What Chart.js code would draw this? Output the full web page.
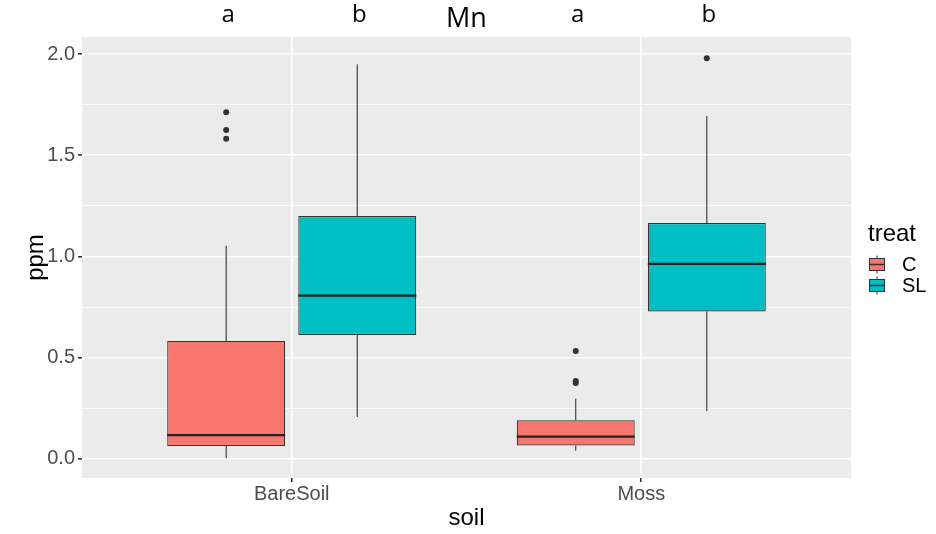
<!DOCTYPE html>
<html>
<head>
<meta charset="utf-8">
<script src="https://cdn.jsdelivr.net/npm/chart.js@4.4.1/dist/chart.umd.min.js"></script>
<style>
  html, body { margin: 0; padding: 0; background: #ffffff; }
  #wrap { width: 936px; height: 534px; }
</style>
</head>
<body>
<div id="wrap"><canvas id="chart"></canvas></div>
<script>
const categories = ['BareSoil', 'Moss'];
const groups = ['C', 'SL'];
const groupColors = ['#F8766D', '#00BFC4'];

// box summaries (ppm)
const lowerC = [0.003, 0.040];
const q1C = [0.064, 0.067];
const medianC = [0.118, 0.110];
const q3C = [0.583, 0.191];
const upperC = [1.053, 0.298];
const outliersC = [[1.712, 1.625, 1.582], [0.533, 0.385, 0.375]];

const lowerSL = [0.207, 0.237];
const q1SL = [0.612, 0.728];
const medianSL = [0.807, 0.964];
const q3SL = [1.200, 1.165];
const upperSL = [1.949, 1.694];
const outliersSL = [[], [1.979]];

// significance letters written above each box
const lettersC = ['a', 'a'];
const lettersSL = ['b', 'b'];

const yMajor = [0, 0.5, 1, 1.5, 2];
const yMinor = [0.25, 0.75, 1.25, 1.75];

const dodgeWidth = 0.75;
const dodge = dodgeWidth / 4;

const stats = [
    { lower: lowerC, q1: q1C, median: medianC, q3: q3C, upper: upperC },
    { lower: lowerSL, q1: q1SL, median: medianSL, q3: q3SL, upper: upperSL }
];
const letters = [lettersC, lettersSL];

function boxData(q1, q3) {
    return categories.map((c, i) => ({ x: i + 1, y: [q1[i], q3[i]] }));
}

function outlierData(list, shift) {
    const pts = [];
    list.forEach((vals, i) => vals.forEach(v => pts.push({ x: i + 1 + shift, y: v })));
    return pts;
}

const panelPlugin = {
    id: 'panel',
    beforeDraw(chart) {
        const { ctx, chartArea: a } = chart;
        ctx.save();
        ctx.fillStyle = '#EBEBEB';
        ctx.fillRect(a.left, a.top, a.right - a.left, a.bottom - a.top);
        ctx.restore();
    }
};

const whiskerPlugin = {
    id: 'whiskers',
    afterDatasetsDraw(chart) {
        const ctx = chart.ctx;
        const y = chart.scales.y;
        stats.forEach((s, d) => {
            chart.getDatasetMeta(d).data.forEach((bar, i) => {
                const half = bar.width / 2;
                ctx.save();
                ctx.strokeStyle = '#333333';
                ctx.lineWidth = 1.1;
                ctx.beginPath();
                ctx.moveTo(bar.x, y.getPixelForValue(s.q3[i]));
                ctx.lineTo(bar.x, y.getPixelForValue(s.upper[i]));
                ctx.moveTo(bar.x, y.getPixelForValue(s.q1[i]));
                ctx.lineTo(bar.x, y.getPixelForValue(s.lower[i]));
                ctx.stroke();
                const ym = y.getPixelForValue(s.median[i]);
                ctx.strokeStyle = '#222222';
                ctx.lineWidth = 2.2;
                ctx.beginPath();
                ctx.moveTo(bar.x - half, ym);
                ctx.lineTo(bar.x + half, ym);
                ctx.stroke();
                ctx.restore();
            });
        });
    }
};

const lettersPlugin = {
    id: 'letters',
    afterDraw(chart) {
        const ctx = chart.ctx;
        ctx.save();
        ctx.font = '24px "Open Sans"';
        ctx.fillStyle = '#000000';
        ctx.textAlign = 'center';
        ctx.textBaseline = 'alphabetic';
        letters.forEach((row, d) => {
            chart.getDatasetMeta(d).data.forEach((bar, i) => {
                ctx.fillText(row[i], bar.x + 2, 22);
            });
        });
        ctx.restore();
    }
};

const legendPlugin = {
    id: 'treatLegend',
    afterDraw(chart) {
        const { ctx, chartArea: a } = chart;
        const left = a.right + 17;
        const mid = (a.top + a.bottom) / 2;
        ctx.save();
        ctx.fillStyle = '#000000';
        ctx.font = '24px "Liberation Sans"';
        ctx.textAlign = 'left';
        ctx.textBaseline = 'alphabetic';
        ctx.fillText('treat', left, mid - 17);
        groups.forEach((g, k) => {
            const cy = mid + 7 + k * 21;
            const cx = left + 9;
            ctx.strokeStyle = '#333333';
            ctx.lineWidth = 1;
            ctx.beginPath();
            ctx.moveTo(cx, cy - 9);
            ctx.lineTo(cx, cy + 9);
            ctx.stroke();
            ctx.fillStyle = groupColors[k];
            ctx.fillRect(left + 1.5, cy - 6, 15, 12);
            ctx.strokeRect(left + 1.5, cy - 6, 15, 12);
            ctx.lineWidth = 1.5;
            ctx.beginPath();
            ctx.moveTo(left + 1.5, cy);
            ctx.lineTo(left + 16.5, cy);
            ctx.stroke();
            ctx.fillStyle = '#000000';
            ctx.font = '20px "Liberation Sans"';
            ctx.textBaseline = 'middle';
            ctx.fillText(g, left + 34, cy + 1);
            ctx.textBaseline = 'alphabetic';
        });
        ctx.restore();
    }
};

Chart.defaults.font.family = '"Liberation Sans", Arial, sans-serif';

new Chart(document.getElementById('chart'), {
    type: 'bar',
    data: {
        datasets: [
            {
                label: groups[0],
                data: boxData(q1C, q3C),
                backgroundColor: groupColors[0],
                borderColor: '#333333',
                borderWidth: 1.2,
                borderSkipped: false
            },
            {
                label: groups[1],
                data: boxData(q1SL, q3SL),
                backgroundColor: groupColors[1],
                borderColor: '#333333',
                borderWidth: 1.2,
                borderSkipped: false
            },
            {
                type: 'scatter',
                label: groups[0] + ' outliers',
                data: outlierData(outliersC, -dodge),
                backgroundColor: '#333333',
                borderWidth: 0,
                pointRadius: 3
            },
            {
                type: 'scatter',
                label: groups[1] + ' outliers',
                data: outlierData(outliersSL, dodge),
                backgroundColor: '#333333',
                borderWidth: 0,
                pointRadius: 3
            }
        ]
    },
    options: {
        responsive: true,
        maintainAspectRatio: false,
        animation: false,
        events: [],
        categoryPercentage: dodgeWidth,
        barPercentage: 0.9,
        layout: { padding: { top: 0, right: 85, left: 0, bottom: 0 } },
        plugins: {
            legend: { display: false },
            tooltip: { enabled: false },
            title: {
                display: true,
                text: 'Mn',
                fullSize: false,
                color: '#000000',
                font: { family: '"Open Sans"', size: 27, weight: 'normal' },
                padding: { top: 3, bottom: 1.6 }
            }
        },
        scales: {
            x: {
                type: 'linear',
                min: 0.4,
                max: 2.6,
                offset: false,
                afterBuildTicks: s => { s.ticks = categories.map((c, i) => ({ value: i + 1 })); },
                afterFit: s => { s.height = 56; },
                border: { display: false },
                grid: { offset: false, color: '#FFFFFF', lineWidth: 1.6, tickColor: '#333333', tickLength: 4 },
                ticks: {
                    color: '#4D4D4D',
                    font: { size: 20 },
                    padding: 0,
                    maxRotation: 0,
                    callback: v => categories[v - 1]
                },
                title: {
                    display: true,
                    text: 'soil',
                    color: '#000000',
                    font: { size: 24 },
                    padding: { top: 0, bottom: 1 }
                }
            },
            y: {
                min: -0.094,
                max: 2.084,
                afterBuildTicks: s => {
                    s.ticks = yMajor.concat(yMinor).sort((a, b) => a - b).map(v => ({ value: v }));
                },
                afterFit: s => { s.width = 82; },
                border: { display: false },
                grid: {
                    color: '#FFFFFF',
                    lineWidth: c => yMajor.includes(c.tick.value) ? 1.6 : 0.8,
                    tickColor: c => yMajor.includes(c.tick.value) ? '#333333' : 'rgba(0,0,0,0)',
                    tickLength: 4
                },
                ticks: {
                    color: '#4D4D4D',
                    font: { size: 20 },
                    padding: 3,
                    callback: v => yMajor.includes(v) ? v.toFixed(1) : ''
                },
                title: {
                    display: true,
                    text: 'ppm',
                    color: '#000000',
                    font: { size: 24 },
                    padding: { top: 22, bottom: 0 }
                }
            }
        }
    },
    plugins: [panelPlugin, whiskerPlugin, lettersPlugin, legendPlugin]
});
</script>
</body>
</html>
